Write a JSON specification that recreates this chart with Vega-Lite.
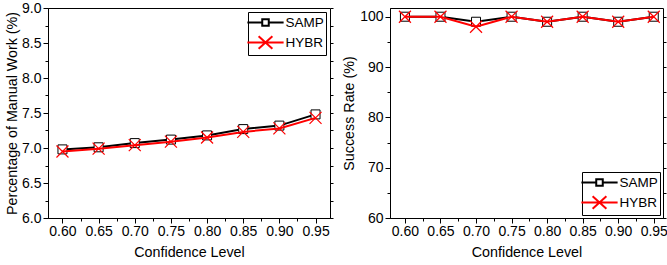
{
  "$schema": "https://vega.github.io/schema/vega-lite/v6.json",
  "padding": {"left": 5, "top": 0, "right": 0, "bottom": 0},
  "datasets": {
    "manual": [
      {"conf": 0.60, "series": "SAMP", "value": 6.98},
      {"conf": 0.65, "series": "SAMP", "value": 7.01},
      {"conf": 0.70, "series": "SAMP", "value": 7.07},
      {"conf": 0.75, "series": "SAMP", "value": 7.12},
      {"conf": 0.80, "series": "SAMP", "value": 7.18},
      {"conf": 0.85, "series": "SAMP", "value": 7.27},
      {"conf": 0.90, "series": "SAMP", "value": 7.32},
      {"conf": 0.95, "series": "SAMP", "value": 7.48},
      {"conf": 0.60, "series": "HYBR", "value": 6.95},
      {"conf": 0.65, "series": "HYBR", "value": 6.99},
      {"conf": 0.70, "series": "HYBR", "value": 7.04},
      {"conf": 0.75, "series": "HYBR", "value": 7.09},
      {"conf": 0.80, "series": "HYBR", "value": 7.15},
      {"conf": 0.85, "series": "HYBR", "value": 7.23},
      {"conf": 0.90, "series": "HYBR", "value": 7.28},
      {"conf": 0.95, "series": "HYBR", "value": 7.43}
    ],
    "success": [
      {"conf": 0.60, "series": "SAMP", "value": 100},
      {"conf": 0.65, "series": "SAMP", "value": 100},
      {"conf": 0.70, "series": "SAMP", "value": 99},
      {"conf": 0.75, "series": "SAMP", "value": 100},
      {"conf": 0.80, "series": "SAMP", "value": 99},
      {"conf": 0.85, "series": "SAMP", "value": 100},
      {"conf": 0.90, "series": "SAMP", "value": 99},
      {"conf": 0.95, "series": "SAMP", "value": 100},
      {"conf": 0.60, "series": "HYBR", "value": 100},
      {"conf": 0.65, "series": "HYBR", "value": 100},
      {"conf": 0.70, "series": "HYBR", "value": 98},
      {"conf": 0.75, "series": "HYBR", "value": 100},
      {"conf": 0.80, "series": "HYBR", "value": 99},
      {"conf": 0.85, "series": "HYBR", "value": 100},
      {"conf": 0.90, "series": "HYBR", "value": 99},
      {"conf": 0.95, "series": "HYBR", "value": 100}
    ]
  },
  "hconcat": [
    {
      "width": 282,
      "height": 210,
      "data": {"name": "manual"},
      "layer": [
        {
          "transform": [{"filter": "datum.series == 'SAMP'"}],
          "mark": {"type": "line", "color": "black", "strokeWidth": 2},
          "encoding": {
            "x": {"field": "conf", "type": "quantitative", "scale": {"domain": [0.58, 0.97], "nice": false, "zero": false},
              "axis": {"orient": "bottom", "values": [0.6, 0.65, 0.7, 0.75, 0.8, 0.85, 0.9, 0.95], "format": ".2f", "title": "Confidence Level", "tickSize": 5, "labelPadding": 1, "titlePadding": 7}},
            "y": {"field": "value", "type": "quantitative", "scale": {"domain": [6, 9], "nice": false, "zero": false},
              "axis": {"orient": "left", "values": [6, 6.5, 7, 7.5, 8, 8.5, 9], "format": ".1f", "title": "Percentage of Manual Work (%)", "tickSize": 5, "labelPadding": 2, "titlePadding": 2}}
          }
        },
        {
          "transform": [{"filter": "datum.series == 'SAMP'"}],
          "mark": {"type": "point", "shape": "square", "filled": true, "fill": "white", "stroke": "black", "strokeWidth": 1, "size": 81, "opacity": 1},
          "encoding": {
            "x": {"field": "conf", "type": "quantitative", "scale": {"domain": [0.58, 0.97], "nice": false, "zero": false},
              "axis": {"orient": "bottom", "values": [0.625, 0.675, 0.725, 0.775, 0.825, 0.875, 0.925], "labels": false, "title": null, "tickSize": 3, "domain": false}},
            "y": {"field": "value", "type": "quantitative", "scale": {"domain": [6, 9], "nice": false, "zero": false},
              "axis": {"orient": "left", "values": [6.25, 6.75, 7.25, 7.75, 8.25, 8.75], "labels": false, "title": null, "tickSize": 3, "domain": false}}
          }
        },
        {
          "transform": [{"filter": "datum.series == 'HYBR'"}],
          "mark": {"type": "line", "color": "#ff0000", "strokeWidth": 2},
          "encoding": {
            "x": {"field": "conf", "type": "quantitative", "scale": {"domain": [0.58, 0.97], "nice": false, "zero": false}, "axis": null},
            "y": {"field": "value", "type": "quantitative", "scale": {"domain": [6, 9], "nice": false, "zero": false},
              "axis": {"orient": "right", "values": [6, 6.25, 6.5, 6.75, 7, 7.25, 7.5, 7.75, 8, 8.25, 8.5, 8.75, 9], "labels": false, "title": null, "tickSize": 3, "domain": false}}
          }
        },
        {
          "transform": [{"filter": "datum.series == 'HYBR'"}],
          "mark": {"type": "point", "shape": "M-1,-1L1,1M-1,1L1,-1", "filled": false, "stroke": "#ff0000", "strokeWidth": 1.2, "size": 144, "opacity": 1},
          "encoding": {
            "x": {"field": "conf", "type": "quantitative", "scale": {"domain": [0.58, 0.97], "nice": false, "zero": false}, "axis": null},
            "y": {"field": "value", "type": "quantitative", "scale": {"domain": [6, 9], "nice": false, "zero": false}, "axis": null}
          }
        },
        {
          "transform": [{"filter": "datum.series == 'none'"}],
          "mark": {"type": "point", "filled": false, "opacity": 1, "size": 210, "strokeWidth": 2},
          "encoding": {
            "x": {"field": "conf", "type": "quantitative", "scale": {"domain": [0.58, 0.97], "nice": false, "zero": false}, "axis": null},
            "y": {"field": "value", "type": "quantitative", "scale": {"domain": [6, 9], "nice": false, "zero": false}, "axis": null},
            "shape": {"field": "series", "type": "nominal", "scale": {"domain": ["SAMP", "HYBR"], "range": ["M-2.5,0H-0.45M0.45,0H2.5M-0.45,-0.45H0.45V0.45H-0.45Z", "M-2.5,0H2.5M-0.95,-0.85L0.95,0.85M-0.95,0.85L0.95,-0.85"]},
              "legend": {"orient": "top-right", "offset": 4}},
            "stroke": {"field": "series", "type": "nominal", "scale": {"domain": ["SAMP", "HYBR"], "range": ["black", "#ff0000"]},
              "legend": {"orient": "top-right", "offset": 4}}
          }
        }
      ],
      "resolve": {"axis": {"x": "independent", "y": "independent"}}
    },
    {
      "width": 273,
      "height": 210,
      "data": {"name": "success"},
      "layer": [
        {
          "transform": [{"filter": "datum.series == 'SAMP'"}],
          "mark": {"type": "line", "color": "black", "strokeWidth": 2},
          "encoding": {
            "x": {"field": "conf", "type": "quantitative", "scale": {"domain": [0.579, 0.963], "nice": false, "zero": false},
              "axis": {"orient": "bottom", "values": [0.6, 0.65, 0.7, 0.75, 0.8, 0.85, 0.9, 0.95], "format": ".2f", "title": "Confidence Level", "tickSize": 5, "labelPadding": 1, "titlePadding": 7, "labelOverlap": false, "labelFlush": false}},
            "y": {"field": "value", "type": "quantitative", "scale": {"domain": [60, 101.73], "nice": false, "zero": false},
              "axis": {"orient": "left", "values": [60, 70, 80, 90, 100], "title": "Success Rate (%)", "tickSize": 5, "labelPadding": 2, "titlePadding": 3}}
          }
        },
        {
          "transform": [{"filter": "datum.series == 'SAMP'"}],
          "mark": {"type": "point", "shape": "square", "filled": true, "fill": "white", "stroke": "black", "strokeWidth": 1, "size": 81, "opacity": 1},
          "encoding": {
            "x": {"field": "conf", "type": "quantitative", "scale": {"domain": [0.579, 0.963], "nice": false, "zero": false},
              "axis": {"orient": "bottom", "values": [0.625, 0.675, 0.725, 0.775, 0.825, 0.875, 0.925], "labels": false, "title": null, "tickSize": 3, "domain": false}},
            "y": {"field": "value", "type": "quantitative", "scale": {"domain": [60, 101.73], "nice": false, "zero": false},
              "axis": {"orient": "left", "values": [65, 75, 85, 95], "labels": false, "title": null, "tickSize": 3, "domain": false}}
          }
        },
        {
          "transform": [{"filter": "datum.series == 'HYBR'"}],
          "mark": {"type": "line", "color": "#ff0000", "strokeWidth": 2},
          "encoding": {
            "x": {"field": "conf", "type": "quantitative", "scale": {"domain": [0.579, 0.963], "nice": false, "zero": false}, "axis": null},
            "y": {"field": "value", "type": "quantitative", "scale": {"domain": [60, 101.73], "nice": false, "zero": false},
              "axis": {"orient": "right", "values": [60, 65, 70, 75, 80, 85, 90, 95, 100], "labels": false, "title": null, "tickSize": 3, "domain": false}}
          }
        },
        {
          "transform": [{"filter": "datum.series == 'HYBR'"}],
          "mark": {"type": "point", "shape": "M-1,-1L1,1M-1,1L1,-1", "filled": false, "stroke": "#ff0000", "strokeWidth": 1.2, "size": 144, "opacity": 1},
          "encoding": {
            "x": {"field": "conf", "type": "quantitative", "scale": {"domain": [0.579, 0.963], "nice": false, "zero": false}, "axis": null},
            "y": {"field": "value", "type": "quantitative", "scale": {"domain": [60, 101.73], "nice": false, "zero": false}, "axis": null}
          }
        },
        {
          "transform": [{"filter": "datum.series == 'none'"}],
          "mark": {"type": "point", "filled": false, "opacity": 1, "size": 210, "strokeWidth": 2},
          "encoding": {
            "x": {"field": "conf", "type": "quantitative", "scale": {"domain": [0.579, 0.963], "nice": false, "zero": false}, "axis": null},
            "y": {"field": "value", "type": "quantitative", "scale": {"domain": [60, 101.73], "nice": false, "zero": false}, "axis": null},
            "shape": {"field": "series", "type": "nominal", "scale": {"domain": ["SAMP", "HYBR"], "range": ["M-2.5,0H-0.45M0.45,0H2.5M-0.45,-0.45H0.45V0.45H-0.45Z", "M-2.5,0H2.5M-0.95,-0.85L0.95,0.85M-0.95,0.85L0.95,-0.85"]},
              "legend": {"orient": "bottom-right", "offset": 3}},
            "stroke": {"field": "series", "type": "nominal", "scale": {"domain": ["SAMP", "HYBR"], "range": ["black", "#ff0000"]},
              "legend": {"orient": "bottom-right", "offset": 3}}
          }
        }
      ],
      "resolve": {"axis": {"x": "independent", "y": "independent"}}
    }
  ],
  "spacing": 60,
  "bounds": "flush",
  "config": {
    "font": "Liberation Sans",
    "background": "white",
    "view": {"stroke": "black", "strokeWidth": 1},
    "axis": {
      "grid": false,
      "domainColor": "black",
      "tickColor": "black",
      "labelColor": "black",
      "titleColor": "black",
      "labelFontSize": 14,
      "titleFontSize": 14.3,
      "titleFontWeight": "normal",
      "labelFont": "Liberation Sans",
      "titleFont": "Liberation Sans"
    },
    "legend": {
      "title": null,
      "labelFontSize": 13.5,
      "labelFont": "Liberation Sans",
      "labelColor": "black",
      "symbolSize": 210,
      "symbolStrokeWidth": 2,
      "symbolFillColor": "white",
      "strokeColor": "black",
      "fillColor": "white",
      "padding": 2,
      "symbolOffset": 7,
      "labelOffset": 11.5,
      "rowPadding": 2,
      "cornerRadius": 0
    }
  }
}
